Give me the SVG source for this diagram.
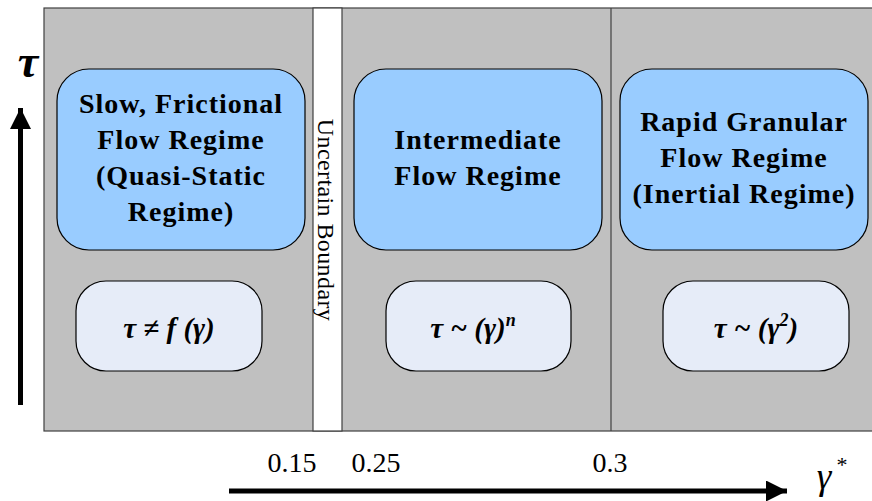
<svg xmlns="http://www.w3.org/2000/svg" width="872" height="501" viewBox="0 0 872 501" font-family="Liberation Serif, serif">
<style>
.region{fill:#c0c0c0;stroke:#404040;stroke-width:1.2}
.sep{stroke:#404040;stroke-width:1.2}
.big{fill:#99ccff;stroke:#000;stroke-width:1.2}
.small{fill:#e6ecf8;stroke:#000;stroke-width:1.2}
.axis{stroke:#000;stroke-width:5;fill:none}
</style>
<defs>
<marker id="ah" viewBox="0 0 10 10" refX="10" refY="5" markerWidth="6" markerHeight="4.2" markerUnits="strokeWidth" orient="auto">
<path d="M0,0L10,5L0,10z" fill="#000"/>
</marker>
</defs>
<g id="background">
<rect class="region" x="44" y="8" width="840" height="423"/>
<rect x="313" y="8" width="29" height="423" fill="#fff" stroke="#404040" stroke-width="1.2"/>
<line class="sep" x1="611" y1="8" x2="611" y2="431"/>
</g>
<g id="boundary">
<text font-family="Liberation Serif" font-size="24" letter-spacing="0.4" text-anchor="middle" transform="translate(318,220) rotate(90)" x="0" y="0">Uncertain Boundary</text>
</g>
<g id="slow">
<rect class="big" x="57" y="69" width="248" height="181" rx="32"/>
<text font-family="Liberation Serif" font-weight="bold" font-size="28" letter-spacing="1" text-anchor="middle"><tspan x="181" y="113">Slow, Frictional</tspan><tspan x="181" y="149">Flow Regime</tspan><tspan x="181" y="185">(Quasi-Static</tspan><tspan x="181" y="221">Regime)</tspan></text>
</g>
<g id="intermediate">
<rect class="big" x="354" y="69" width="248" height="181" rx="32"/>
<text font-family="Liberation Serif" font-weight="bold" font-size="28" letter-spacing="1" text-anchor="middle"><tspan x="478" y="149">Intermediate</tspan><tspan x="478" y="185">Flow Regime</tspan></text>
</g>
<g id="rapid">
<rect class="big" x="620" y="69" width="248" height="181" rx="32"/>
<text font-family="Liberation Serif" font-weight="bold" font-size="28" letter-spacing="1" text-anchor="middle"><tspan x="744" y="131">Rapid Granular</tspan><tspan x="744" y="167">Flow Regime</tspan><tspan x="744" y="203">(Inertial Regime)</tspan></text>
</g>
<g id="law-slow">
<rect class="small" x="76" y="281" width="186" height="90" rx="30"/>
<text font-family="Liberation Serif" font-weight="bold" font-style="italic" font-size="29" text-anchor="middle" x="169" y="338">τ ≠ f (γ)</text>
</g>
<g id="law-intermediate">
<rect class="small" x="386" y="281" width="185" height="90" rx="30"/>
<text font-family="Liberation Serif" font-weight="bold" font-style="italic" font-size="29" text-anchor="middle" x="473" y="338">τ ~ (γ)<tspan dy="-12" font-size="18">n</tspan></text>
</g>
<g id="law-rapid">
<rect class="small" x="663" y="281" width="186" height="90" rx="30"/>
<text font-family="Liberation Serif" font-weight="bold" font-style="italic" font-size="29" text-anchor="middle" x="756" y="338">τ ~ (γ<tspan dy="-12" font-size="18">2</tspan><tspan dy="12">)</tspan></text>
</g>
<g id="connectors">
<line class="axis" x1="20.5" y1="405" x2="20.5" y2="108" marker-end="url(#ah)"/>
<line class="axis" x1="229" y1="491" x2="787" y2="491" marker-end="url(#ah)"/>
</g>
<g id="labels">
<text font-family="Liberation Serif" font-weight="bold" font-style="italic" font-size="46" text-anchor="middle" x="28" y="77">τ</text>
<text font-family="Liberation Serif" font-style="italic" font-size="37" text-anchor="middle" x="824" y="489">γ</text>
<text font-family="Liberation Serif" font-size="22" text-anchor="middle" x="842" y="472">*</text>
<text font-family="Liberation Serif" font-size="28" text-anchor="middle" x="292" y="472">0.15</text>
<text font-family="Liberation Serif" font-size="28" text-anchor="middle" x="376" y="472">0.25</text>
<text font-family="Liberation Serif" font-size="28" text-anchor="middle" x="610" y="472">0.3</text>
</g>
</svg>
